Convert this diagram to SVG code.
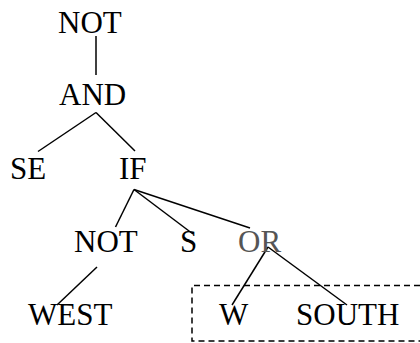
<svg xmlns="http://www.w3.org/2000/svg" width="420" height="343" viewBox="0 0 420 343">
  <style>
    text { font-family: "Liberation Serif", "Times New Roman", serif; font-size: 31px; fill: #000; }
    .muted { fill: #555; }
    .edge { stroke: #000; stroke-width: 1.5; fill: none; }
    .frame { stroke: #000; stroke-width: 1.5; fill: none; stroke-dasharray: 6 4; }
  </style>
  <rect width="420" height="343" fill="#fff"/>

  <!-- dashed grouping frame around the OR operands, running off the right edge -->
  <path class="frame" d="M420 285.5 H192 V341 H420"/>

  <g id="connectors">
    <line class="edge" x1="96" y1="36" x2="96" y2="75"/>
    <line class="edge" x1="96" y1="112.5" x2="38" y2="151.5"/>
    <line class="edge" x1="96" y1="112.5" x2="135" y2="151"/>
    <line class="edge" x1="134" y1="189.5" x2="115.5" y2="227"/>
    <line class="edge" x1="134" y1="189.5" x2="193" y2="234"/>
    <line class="edge" x1="134" y1="189.5" x2="250" y2="228"/>
    <line class="edge" x1="97" y1="267" x2="57" y2="305"/>
    <line class="edge" x1="268" y1="247" x2="232" y2="305"/>
    <line class="edge" x1="268" y1="247" x2="347" y2="305"/>
  </g>

  <g id="not-root"><text x="58" y="33">NOT</text></g>
  <g id="and"><text x="59" y="105">AND</text></g>
  <g id="se"><text x="10" y="179">SE</text></g>
  <g id="if"><text x="119" y="179">IF</text></g>
  <g id="not-inner"><text x="74" y="252">NOT</text></g>
  <g id="s"><text x="180" y="252">S</text></g>
  <g id="or"><text class="muted" x="238" y="252">OR</text></g>
  <g id="west"><text x="28" y="325">WEST</text></g>
  <g id="w"><text x="219" y="325">W</text></g>
  <g id="south"><text x="296" y="325">SOUTH</text></g>
</svg>
